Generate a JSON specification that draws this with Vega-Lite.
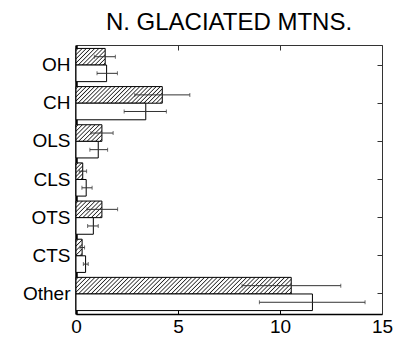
{
  "$schema": "https://vega.github.io/schema/vega-lite/v6.json",
  "autosize": "none",
  "width": 306,
  "height": 269,
  "padding": {"left": 76, "top": 45, "right": 22, "bottom": 32},
  "background": "white",
  "title": {"text": "N. GLACIATED MTNS.", "font": "Liberation Sans", "fontSize": 24, "fontWeight": "normal", "color": "black", "offset": 10},
  "config": {
    "view": {"stroke": null},
    "axis": {"grid": false, "labelFont": "Liberation Sans", "labelColor": "black", "titleFont": "Liberation Sans"}
  },
  "data": {"values": [
    {"cat": "OH", "series": "A", "value": 1.43, "lo": 0.9, "hi": 1.93},
    {"cat": "OH", "series": "B", "value": 1.5, "lo": 1.03, "hi": 2.03},
    {"cat": "CH", "series": "A", "value": 4.23, "lo": 2.88, "hi": 5.58},
    {"cat": "CH", "series": "B", "value": 3.42, "lo": 2.36, "hi": 4.43},
    {"cat": "OLS", "series": "A", "value": 1.27, "lo": 0.73, "hi": 1.82},
    {"cat": "OLS", "series": "B", "value": 1.09, "lo": 0.68, "hi": 1.55},
    {"cat": "CLS", "series": "A", "value": 0.33, "lo": 0.16, "hi": 0.52},
    {"cat": "CLS", "series": "B", "value": 0.5, "lo": 0.29, "hi": 0.79},
    {"cat": "OTS", "series": "A", "value": 1.27, "lo": 0.54, "hi": 2.04},
    {"cat": "OTS", "series": "B", "value": 0.85, "lo": 0.57, "hi": 1.09},
    {"cat": "CTS", "series": "A", "value": 0.3, "lo": 0.2, "hi": 0.42},
    {"cat": "CTS", "series": "B", "value": 0.47, "lo": 0.36, "hi": 0.6},
    {"cat": "Other", "series": "A", "value": 10.55, "lo": 8.14, "hi": 12.98},
    {"cat": "Other", "series": "B", "value": 11.59, "lo": 8.99, "hi": 14.17}
  ]},
  "encoding": {
    "y": {"field": "cat", "type": "nominal", "sort": ["OH", "CH", "OLS", "CLS", "OTS", "CTS", "Other"], "scale": {"paddingInner": 0.13, "paddingOuter": 0.09}},
    "yOffset": {"field": "series", "type": "nominal", "sort": ["A", "B"], "scale": {"paddingInner": 0, "paddingOuter": 0}}
  },
  "layer": [
    {
      "mark": {"type": "bar", "stroke": "black", "strokeWidth": 1},
      "encoding": {
        "x": {"field": "value", "type": "quantitative", "scale": {"domain": [0, 15], "nice": false, "zero": true},
              "axis": {"orient": "bottom", "values": [0, 5, 10, 15], "title": null, "tickSize": -5, "tickColor": "black", "domainColor": "black", "domainWidth": 1.5, "labelFontSize": 19, "labelPadding": 8, "labelFlush": false}},
        "y": {"field": "cat", "type": "nominal", "sort": ["OH", "CH", "OLS", "CLS", "OTS", "CTS", "Other"],
              "axis": {"orient": "left", "title": null, "ticks": false, "domainColor": "black", "domainWidth": 2.5, "labelFontSize": 19, "labelPadding": 6}},
        "fill": {
          "condition": [
            {"test": "datum.series === 'A' && datum.cat === 'OH'", "value": {"gradient": "linear", "x1": 0, "y1": 0, "x2": 1.185, "y2": 0.674, "stops": [
              {"offset": 0.0215, "color": "#fff"}, {"offset": 0.0455, "color": "#222"}, {"offset": 0.0695, "color": "#fff"},
              {"offset": 0.1124, "color": "#fff"}, {"offset": 0.1364, "color": "#222"}, {"offset": 0.1604, "color": "#fff"},
              {"offset": 0.2033, "color": "#fff"}, {"offset": 0.2273, "color": "#222"}, {"offset": 0.2513, "color": "#fff"},
              {"offset": 0.2942, "color": "#fff"}, {"offset": 0.3182, "color": "#222"}, {"offset": 0.3422, "color": "#fff"},
              {"offset": 0.3851, "color": "#fff"}, {"offset": 0.4091, "color": "#222"}, {"offset": 0.4331, "color": "#fff"},
              {"offset": 0.476, "color": "#fff"}, {"offset": 0.5, "color": "#222"}, {"offset": 0.524, "color": "#fff"},
              {"offset": 0.5669, "color": "#fff"}, {"offset": 0.5909, "color": "#222"}, {"offset": 0.6149, "color": "#fff"},
              {"offset": 0.6578, "color": "#fff"}, {"offset": 0.6818, "color": "#222"}, {"offset": 0.7058, "color": "#fff"},
              {"offset": 0.7487, "color": "#fff"}, {"offset": 0.7727, "color": "#222"}, {"offset": 0.7967, "color": "#fff"},
              {"offset": 0.8396, "color": "#fff"}, {"offset": 0.8636, "color": "#222"}, {"offset": 0.8876, "color": "#fff"},
              {"offset": 0.9305, "color": "#fff"}, {"offset": 0.9545, "color": "#222"}, {"offset": 0.9785, "color": "#fff"}]}},
            {"test": "datum.series === 'A' && datum.cat === 'CH'", "value": {"gradient": "linear", "x1": 0, "y1": 0, "x2": 1.15, "y2": 0.2212, "stops": [
              {"offset": 0.009, "color": "#fff"}, {"offset": 0.02, "color": "#222"}, {"offset": 0.031, "color": "#fff"},
              {"offset": 0.049, "color": "#fff"}, {"offset": 0.06, "color": "#222"}, {"offset": 0.071, "color": "#fff"},
              {"offset": 0.089, "color": "#fff"}, {"offset": 0.10, "color": "#222"}, {"offset": 0.111, "color": "#fff"},
              {"offset": 0.129, "color": "#fff"}, {"offset": 0.14, "color": "#222"}, {"offset": 0.151, "color": "#fff"},
              {"offset": 0.169, "color": "#fff"}, {"offset": 0.18, "color": "#222"}, {"offset": 0.191, "color": "#fff"},
              {"offset": 0.209, "color": "#fff"}, {"offset": 0.22, "color": "#222"}, {"offset": 0.231, "color": "#fff"},
              {"offset": 0.249, "color": "#fff"}, {"offset": 0.26, "color": "#222"}, {"offset": 0.271, "color": "#fff"},
              {"offset": 0.289, "color": "#fff"}, {"offset": 0.30, "color": "#222"}, {"offset": 0.311, "color": "#fff"},
              {"offset": 0.329, "color": "#fff"}, {"offset": 0.34, "color": "#222"}, {"offset": 0.351, "color": "#fff"},
              {"offset": 0.369, "color": "#fff"}, {"offset": 0.38, "color": "#222"}, {"offset": 0.391, "color": "#fff"},
              {"offset": 0.409, "color": "#fff"}, {"offset": 0.42, "color": "#222"}, {"offset": 0.431, "color": "#fff"},
              {"offset": 0.449, "color": "#fff"}, {"offset": 0.46, "color": "#222"}, {"offset": 0.471, "color": "#fff"},
              {"offset": 0.489, "color": "#fff"}, {"offset": 0.50, "color": "#222"}, {"offset": 0.511, "color": "#fff"},
              {"offset": 0.529, "color": "#fff"}, {"offset": 0.54, "color": "#222"}, {"offset": 0.551, "color": "#fff"},
              {"offset": 0.569, "color": "#fff"}, {"offset": 0.58, "color": "#222"}, {"offset": 0.591, "color": "#fff"},
              {"offset": 0.609, "color": "#fff"}, {"offset": 0.62, "color": "#222"}, {"offset": 0.631, "color": "#fff"},
              {"offset": 0.649, "color": "#fff"}, {"offset": 0.66, "color": "#222"}, {"offset": 0.671, "color": "#fff"},
              {"offset": 0.689, "color": "#fff"}, {"offset": 0.70, "color": "#222"}, {"offset": 0.711, "color": "#fff"},
              {"offset": 0.729, "color": "#fff"}, {"offset": 0.74, "color": "#222"}, {"offset": 0.751, "color": "#fff"},
              {"offset": 0.769, "color": "#fff"}, {"offset": 0.78, "color": "#222"}, {"offset": 0.791, "color": "#fff"},
              {"offset": 0.809, "color": "#fff"}, {"offset": 0.82, "color": "#222"}, {"offset": 0.831, "color": "#fff"},
              {"offset": 0.849, "color": "#fff"}, {"offset": 0.86, "color": "#222"}, {"offset": 0.871, "color": "#fff"},
              {"offset": 0.889, "color": "#fff"}, {"offset": 0.90, "color": "#222"}, {"offset": 0.911, "color": "#fff"},
              {"offset": 0.929, "color": "#fff"}, {"offset": 0.94, "color": "#222"}, {"offset": 0.951, "color": "#fff"},
              {"offset": 0.969, "color": "#fff"}, {"offset": 0.98, "color": "#222"}, {"offset": 0.991, "color": "#fff"}]}},
            {"test": "datum.series === 'A' && (datum.cat === 'OLS' || datum.cat === 'OTS')", "value": {"gradient": "linear", "x1": 0, "y1": 0, "x2": 1.163, "y2": 0.7455, "stops": [
              {"offset": 0.024, "color": "#fff"}, {"offset": 0.05, "color": "#222"}, {"offset": 0.076, "color": "#fff"},
              {"offset": 0.124, "color": "#fff"}, {"offset": 0.15, "color": "#222"}, {"offset": 0.176, "color": "#fff"},
              {"offset": 0.224, "color": "#fff"}, {"offset": 0.25, "color": "#222"}, {"offset": 0.276, "color": "#fff"},
              {"offset": 0.324, "color": "#fff"}, {"offset": 0.35, "color": "#222"}, {"offset": 0.376, "color": "#fff"},
              {"offset": 0.424, "color": "#fff"}, {"offset": 0.45, "color": "#222"}, {"offset": 0.476, "color": "#fff"},
              {"offset": 0.524, "color": "#fff"}, {"offset": 0.55, "color": "#222"}, {"offset": 0.576, "color": "#fff"},
              {"offset": 0.624, "color": "#fff"}, {"offset": 0.65, "color": "#222"}, {"offset": 0.676, "color": "#fff"},
              {"offset": 0.724, "color": "#fff"}, {"offset": 0.75, "color": "#222"}, {"offset": 0.776, "color": "#fff"},
              {"offset": 0.824, "color": "#fff"}, {"offset": 0.85, "color": "#222"}, {"offset": 0.876, "color": "#fff"},
              {"offset": 0.924, "color": "#fff"}, {"offset": 0.95, "color": "#222"}, {"offset": 0.976, "color": "#fff"}]}},
            {"test": "datum.series === 'A' && datum.cat === 'CLS'", "value": {"gradient": "linear", "x1": 0, "y1": 0, "x2": 0.487, "y2": 1.207, "stops": [
              {"offset": 0.0363, "color": "#fff"}, {"offset": 0.0833, "color": "#222"}, {"offset": 0.1303, "color": "#fff"},
              {"offset": 0.203, "color": "#fff"}, {"offset": 0.25, "color": "#222"}, {"offset": 0.297, "color": "#fff"},
              {"offset": 0.3697, "color": "#fff"}, {"offset": 0.4167, "color": "#222"}, {"offset": 0.4637, "color": "#fff"},
              {"offset": 0.5363, "color": "#fff"}, {"offset": 0.5833, "color": "#222"}, {"offset": 0.6303, "color": "#fff"},
              {"offset": 0.703, "color": "#fff"}, {"offset": 0.75, "color": "#222"}, {"offset": 0.797, "color": "#fff"},
              {"offset": 0.8697, "color": "#fff"}, {"offset": 0.9167, "color": "#222"}, {"offset": 0.9637, "color": "#fff"}]}},
            {"test": "datum.series === 'A' && datum.cat === 'CTS'", "value": {"gradient": "linear", "x1": 0, "y1": 0, "x2": 0.4427, "y2": 1.205, "stops": [
              {"offset": 0.052, "color": "#fff"}, {"offset": 0.1, "color": "#222"}, {"offset": 0.148, "color": "#fff"},
              {"offset": 0.252, "color": "#fff"}, {"offset": 0.3, "color": "#222"}, {"offset": 0.348, "color": "#fff"},
              {"offset": 0.452, "color": "#fff"}, {"offset": 0.5, "color": "#222"}, {"offset": 0.548, "color": "#fff"},
              {"offset": 0.652, "color": "#fff"}, {"offset": 0.7, "color": "#222"}, {"offset": 0.748, "color": "#fff"},
              {"offset": 0.852, "color": "#fff"}, {"offset": 0.9, "color": "#222"}, {"offset": 0.948, "color": "#fff"}]}},
            {"test": "datum.series === 'A' && datum.cat === 'Other'", "value": {"gradient": "linear", "x1": 0, "y1": 0, "x2": 1.0708, "y2": 0.0826, "stops": [
              {"offset": 0.00429, "color": "#fff"}, {"offset": 0.00909, "color": "#222"}, {"offset": 0.01389, "color": "#fff"},
              {"offset": 0.02247, "color": "#fff"}, {"offset": 0.02727, "color": "#222"}, {"offset": 0.03207, "color": "#fff"},
              {"offset": 0.04065, "color": "#fff"}, {"offset": 0.04545, "color": "#222"}, {"offset": 0.05025, "color": "#fff"},
              {"offset": 0.05884, "color": "#fff"}, {"offset": 0.06364, "color": "#222"}, {"offset": 0.06844, "color": "#fff"},
              {"offset": 0.07702, "color": "#fff"}, {"offset": 0.08182, "color": "#222"}, {"offset": 0.08662, "color": "#fff"},
              {"offset": 0.0952, "color": "#fff"}, {"offset": 0.1, "color": "#222"}, {"offset": 0.1048, "color": "#fff"},
              {"offset": 0.11338, "color": "#fff"}, {"offset": 0.11818, "color": "#222"}, {"offset": 0.12298, "color": "#fff"},
              {"offset": 0.13156, "color": "#fff"}, {"offset": 0.13636, "color": "#222"}, {"offset": 0.14116, "color": "#fff"},
              {"offset": 0.14975, "color": "#fff"}, {"offset": 0.15455, "color": "#222"}, {"offset": 0.15935, "color": "#fff"},
              {"offset": 0.16793, "color": "#fff"}, {"offset": 0.17273, "color": "#222"}, {"offset": 0.17753, "color": "#fff"},
              {"offset": 0.18611, "color": "#fff"}, {"offset": 0.19091, "color": "#222"}, {"offset": 0.19571, "color": "#fff"},
              {"offset": 0.20429, "color": "#fff"}, {"offset": 0.20909, "color": "#222"}, {"offset": 0.21389, "color": "#fff"},
              {"offset": 0.22247, "color": "#fff"}, {"offset": 0.22727, "color": "#222"}, {"offset": 0.23207, "color": "#fff"},
              {"offset": 0.24065, "color": "#fff"}, {"offset": 0.24545, "color": "#222"}, {"offset": 0.25025, "color": "#fff"},
              {"offset": 0.25884, "color": "#fff"}, {"offset": 0.26364, "color": "#222"}, {"offset": 0.26844, "color": "#fff"},
              {"offset": 0.27702, "color": "#fff"}, {"offset": 0.28182, "color": "#222"}, {"offset": 0.28662, "color": "#fff"},
              {"offset": 0.2952, "color": "#fff"}, {"offset": 0.3, "color": "#222"}, {"offset": 0.3048, "color": "#fff"},
              {"offset": 0.31338, "color": "#fff"}, {"offset": 0.31818, "color": "#222"}, {"offset": 0.32298, "color": "#fff"},
              {"offset": 0.33156, "color": "#fff"}, {"offset": 0.33636, "color": "#222"}, {"offset": 0.34116, "color": "#fff"},
              {"offset": 0.34975, "color": "#fff"}, {"offset": 0.35455, "color": "#222"}, {"offset": 0.35935, "color": "#fff"},
              {"offset": 0.36793, "color": "#fff"}, {"offset": 0.37273, "color": "#222"}, {"offset": 0.37753, "color": "#fff"},
              {"offset": 0.38611, "color": "#fff"}, {"offset": 0.39091, "color": "#222"}, {"offset": 0.39571, "color": "#fff"},
              {"offset": 0.40429, "color": "#fff"}, {"offset": 0.40909, "color": "#222"}, {"offset": 0.41389, "color": "#fff"},
              {"offset": 0.42247, "color": "#fff"}, {"offset": 0.42727, "color": "#222"}, {"offset": 0.43207, "color": "#fff"},
              {"offset": 0.44065, "color": "#fff"}, {"offset": 0.44545, "color": "#222"}, {"offset": 0.45025, "color": "#fff"},
              {"offset": 0.45884, "color": "#fff"}, {"offset": 0.46364, "color": "#222"}, {"offset": 0.46844, "color": "#fff"},
              {"offset": 0.47702, "color": "#fff"}, {"offset": 0.48182, "color": "#222"}, {"offset": 0.48662, "color": "#fff"},
              {"offset": 0.4952, "color": "#fff"}, {"offset": 0.5, "color": "#222"}, {"offset": 0.5048, "color": "#fff"},
              {"offset": 0.51338, "color": "#fff"}, {"offset": 0.51818, "color": "#222"}, {"offset": 0.52298, "color": "#fff"},
              {"offset": 0.53156, "color": "#fff"}, {"offset": 0.53636, "color": "#222"}, {"offset": 0.54116, "color": "#fff"},
              {"offset": 0.54975, "color": "#fff"}, {"offset": 0.55455, "color": "#222"}, {"offset": 0.55935, "color": "#fff"},
              {"offset": 0.56793, "color": "#fff"}, {"offset": 0.57273, "color": "#222"}, {"offset": 0.57753, "color": "#fff"},
              {"offset": 0.58611, "color": "#fff"}, {"offset": 0.59091, "color": "#222"}, {"offset": 0.59571, "color": "#fff"},
              {"offset": 0.60429, "color": "#fff"}, {"offset": 0.60909, "color": "#222"}, {"offset": 0.61389, "color": "#fff"},
              {"offset": 0.62247, "color": "#fff"}, {"offset": 0.62727, "color": "#222"}, {"offset": 0.63207, "color": "#fff"},
              {"offset": 0.64065, "color": "#fff"}, {"offset": 0.64545, "color": "#222"}, {"offset": 0.65025, "color": "#fff"},
              {"offset": 0.65884, "color": "#fff"}, {"offset": 0.66364, "color": "#222"}, {"offset": 0.66844, "color": "#fff"},
              {"offset": 0.67702, "color": "#fff"}, {"offset": 0.68182, "color": "#222"}, {"offset": 0.68662, "color": "#fff"},
              {"offset": 0.6952, "color": "#fff"}, {"offset": 0.7, "color": "#222"}, {"offset": 0.7048, "color": "#fff"},
              {"offset": 0.71338, "color": "#fff"}, {"offset": 0.71818, "color": "#222"}, {"offset": 0.72298, "color": "#fff"},
              {"offset": 0.73156, "color": "#fff"}, {"offset": 0.73636, "color": "#222"}, {"offset": 0.74116, "color": "#fff"},
              {"offset": 0.74975, "color": "#fff"}, {"offset": 0.75455, "color": "#222"}, {"offset": 0.75935, "color": "#fff"},
              {"offset": 0.76793, "color": "#fff"}, {"offset": 0.77273, "color": "#222"}, {"offset": 0.77753, "color": "#fff"},
              {"offset": 0.78611, "color": "#fff"}, {"offset": 0.79091, "color": "#222"}, {"offset": 0.79571, "color": "#fff"},
              {"offset": 0.80429, "color": "#fff"}, {"offset": 0.80909, "color": "#222"}, {"offset": 0.81389, "color": "#fff"},
              {"offset": 0.82247, "color": "#fff"}, {"offset": 0.82727, "color": "#222"}, {"offset": 0.83207, "color": "#fff"},
              {"offset": 0.84065, "color": "#fff"}, {"offset": 0.84545, "color": "#222"}, {"offset": 0.85025, "color": "#fff"},
              {"offset": 0.85884, "color": "#fff"}, {"offset": 0.86364, "color": "#222"}, {"offset": 0.86844, "color": "#fff"},
              {"offset": 0.87702, "color": "#fff"}, {"offset": 0.88182, "color": "#222"}, {"offset": 0.88662, "color": "#fff"},
              {"offset": 0.8952, "color": "#fff"}, {"offset": 0.9, "color": "#222"}, {"offset": 0.9048, "color": "#fff"},
              {"offset": 0.91338, "color": "#fff"}, {"offset": 0.91818, "color": "#222"}, {"offset": 0.92298, "color": "#fff"},
              {"offset": 0.93156, "color": "#fff"}, {"offset": 0.93636, "color": "#222"}, {"offset": 0.94116, "color": "#fff"},
              {"offset": 0.94975, "color": "#fff"}, {"offset": 0.95455, "color": "#222"}, {"offset": 0.95935, "color": "#fff"},
              {"offset": 0.96793, "color": "#fff"}, {"offset": 0.97273, "color": "#222"}, {"offset": 0.97753, "color": "#fff"},
              {"offset": 0.98611, "color": "#fff"}, {"offset": 0.99091, "color": "#222"}, {"offset": 0.99571, "color": "#fff"}]}}
          ],
          "field": "series", "type": "nominal", "scale": {"domain": ["A", "B"], "range": ["#a8a8a8", "white"]}, "legend": null
        }
      }
    },
    {
      "mark": {"type": "rule", "color": "#333333", "strokeWidth": 1},
      "encoding": {
        "x": {"field": "lo", "type": "quantitative", "axis": {"orient": "top", "values": [0, 5, 10, 15], "labels": false, "title": null, "tickSize": -5, "tickColor": "#333333", "domainColor": "#333333", "domainWidth": 1}},
        "x2": {"field": "hi"},
        "y": {"field": "cat", "type": "nominal", "sort": ["OH", "CH", "OLS", "CLS", "OTS", "CTS", "Other"],
              "axis": {"orient": "right", "labels": false, "title": null, "tickSize": -5, "tickColor": "#333333", "domainColor": "#333333", "domainWidth": 1}}
      }
    },
    {
      "mark": {"type": "tick", "color": "#333333", "thickness": 1, "size": 4, "orient": "vertical"},
      "encoding": {
        "x": {"field": "lo", "type": "quantitative", "axis": null},
        "y": {"field": "cat", "type": "nominal", "sort": ["OH", "CH", "OLS", "CLS", "OTS", "CTS", "Other"], "axis": null}
      }
    },
    {
      "mark": {"type": "tick", "color": "#333333", "thickness": 1, "size": 4, "orient": "vertical"},
      "encoding": {
        "x": {"field": "hi", "type": "quantitative", "axis": null},
        "y": {"field": "cat", "type": "nominal", "sort": ["OH", "CH", "OLS", "CLS", "OTS", "CTS", "Other"], "axis": null}
      }
    }
  ],
  "resolve": {"axis": {"x": "independent", "y": "independent"}}
}
